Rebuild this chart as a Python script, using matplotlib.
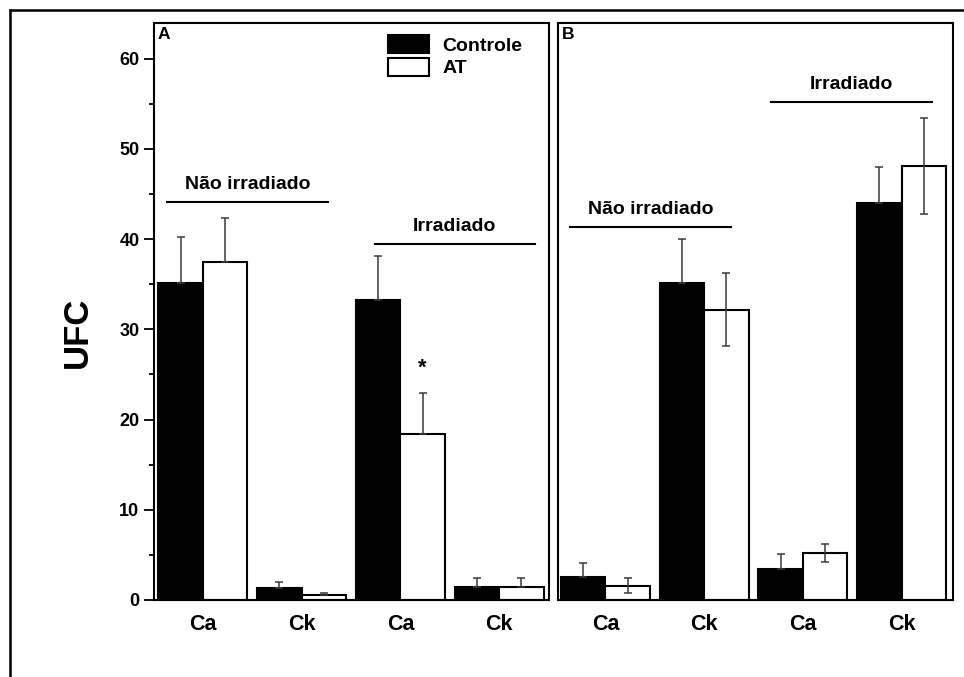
import numpy as np
import matplotlib
matplotlib.use('Agg')
import matplotlib.pyplot as plt
from matplotlib.lines import Line2D

plt.rcParams['font.family'] = ['Liberation Sans', 'DejaVu Sans']
plt.rcParams['font.weight'] = 'bold'

# ---------- data ----------
categories = ['Ca', 'Ck', 'Ca', 'Ck']
groups = ['Não irradiado', 'Irradiado']
series = ['Controle', 'AT']

# panel A
a_controle = [35.1, 1.37, 33.3, 1.47]
a_controle_err = [5.1, 0.6, 4.8, 0.97]
a_at = [37.5, 0.55, 18.4, 1.47]
a_at_err = [4.8, 0.19, 4.6, 0.97]

# panel B
b_controle = [2.6, 35.1, 3.4, 44.0]
b_controle_err = [1.5, 4.9, 1.7, 4.0]
b_at = [1.6, 32.2, 5.25, 48.1]
b_at_err = [0.8, 4.0, 1.0, 5.3]

# ---------- figure ----------
W, H = 964, 677
fig = plt.figure(figsize=(W / 100, H / 100), dpi=100)

def fx(px):
    return px / W

def fy(py):
    return 1 - py / H

axA = fig.add_axes([fx(154), fy(600), fx(549) - fx(154), fy(22.7) - fy(600)])
axB = fig.add_axes([fx(558), fy(600), fx(953) - fx(558), fy(22.7) - fy(600)])

x = np.arange(1, len(categories) + 1)
bw = 0.45
err_kw = dict(ecolor='#3a3a3a', elinewidth=1.1, capsize=2.6, capthick=1.1)


def draw_panel(ax, ctrl, ctrl_err, at, at_err, at_upper_only):
    # lower half of the error bar is hidden inside the black bars
    ce = [np.zeros(len(ctrl)), ctrl_err]
    ae = [np.zeros(len(at)), at_err] if at_upper_only else at_err
    ax.bar(x - bw / 2, ctrl, bw, color='black', edgecolor='black', linewidth=1.5,
           label=series[0], zorder=2)
    ax.errorbar(x - bw / 2, ctrl, yerr=ce, fmt='none', zorder=3, **err_kw)
    ax.bar(x + bw / 2, at, bw, color='white', edgecolor='black', linewidth=1.5,
           label=series[1], zorder=2)
    ax.errorbar(x + bw / 2, at, yerr=ae, fmt='none', zorder=3, **err_kw)
    ax.set_ylim(0, 64)
    ax.set_xticks(x)
    ax.set_xticklabels(categories, fontsize=15.5, fontweight='bold')
    ax.tick_params(axis='x', length=0, pad=10)
    for s in ax.spines.values():
        s.set_linewidth(1.5)


draw_panel(axA, a_controle, a_controle_err, a_at, a_at_err, True)
draw_panel(axB, b_controle, b_controle_err, b_at, b_at_err, False)

axA.set_xlim(0.505, 4.505)
axB.set_xlim(0.52, 4.52)

axA.set_yticks(np.arange(0, 61, 10))
axA.set_yticks(np.arange(5, 61, 10), minor=True)
axA.tick_params(axis='y', which='major', length=7, width=1.3, labelsize=13)
axA.tick_params(axis='y', which='minor', length=3.5, width=1.3)
for lab in axA.get_yticklabels():
    lab.set_fontweight('bold')
axB.set_yticks([])

# group brackets
def bracket(ax, x0, x1, y, text):
    ax.plot([x0, x1], [y, y], color='black', linewidth=1.5, clip_on=False)
    ax.text((x0 + x1) / 2, y + 1.0, text, ha='center', va='bottom',
            fontsize=14, fontweight='bold')

bracket(axA, 0.64, 2.27, 44.1, groups[0])
bracket(axA, 2.74, 4.36, 39.5, groups[1])
bracket(axB, 0.64, 2.27, 41.3, groups[0])
bracket(axB, 2.68, 4.31, 55.2, groups[1])

axA.text(3 + bw / 2, 25.7, '*', ha='center', va='center', fontsize=16, fontweight='bold')

# panel letters
axA.text(0.008, 0.993, 'A', transform=axA.transAxes, ha='left', va='top',
         fontsize=12.5, fontweight='bold')
axB.text(0.01, 0.993, 'B', transform=axB.transAxes, ha='left', va='top',
         fontsize=12.5, fontweight='bold')

axA.legend(loc='upper left', bbox_to_anchor=(0.592, 0.978), frameon=False,
           prop={'size': 14, 'weight': 'bold'}, handlelength=2.1, handleheight=1.03,
           labelspacing=0.15, handletextpad=0.7, borderpad=0, borderaxespad=0)

fig.text(fx(77.5), fy(332), 'UFC', rotation=90, ha='center', va='center',
         fontsize=25, fontweight='bold')

# outer frame (left and top edges)
fig.add_artist(Line2D([fx(9.5), fx(9.5)], [fy(9.5), 0], color='black', linewidth=1.8))
fig.add_artist(Line2D([fx(9.5), 1], [fy(9.5), fy(9.5)], color='black', linewidth=1.8))

fig.savefig('out.png', dpi=100)
